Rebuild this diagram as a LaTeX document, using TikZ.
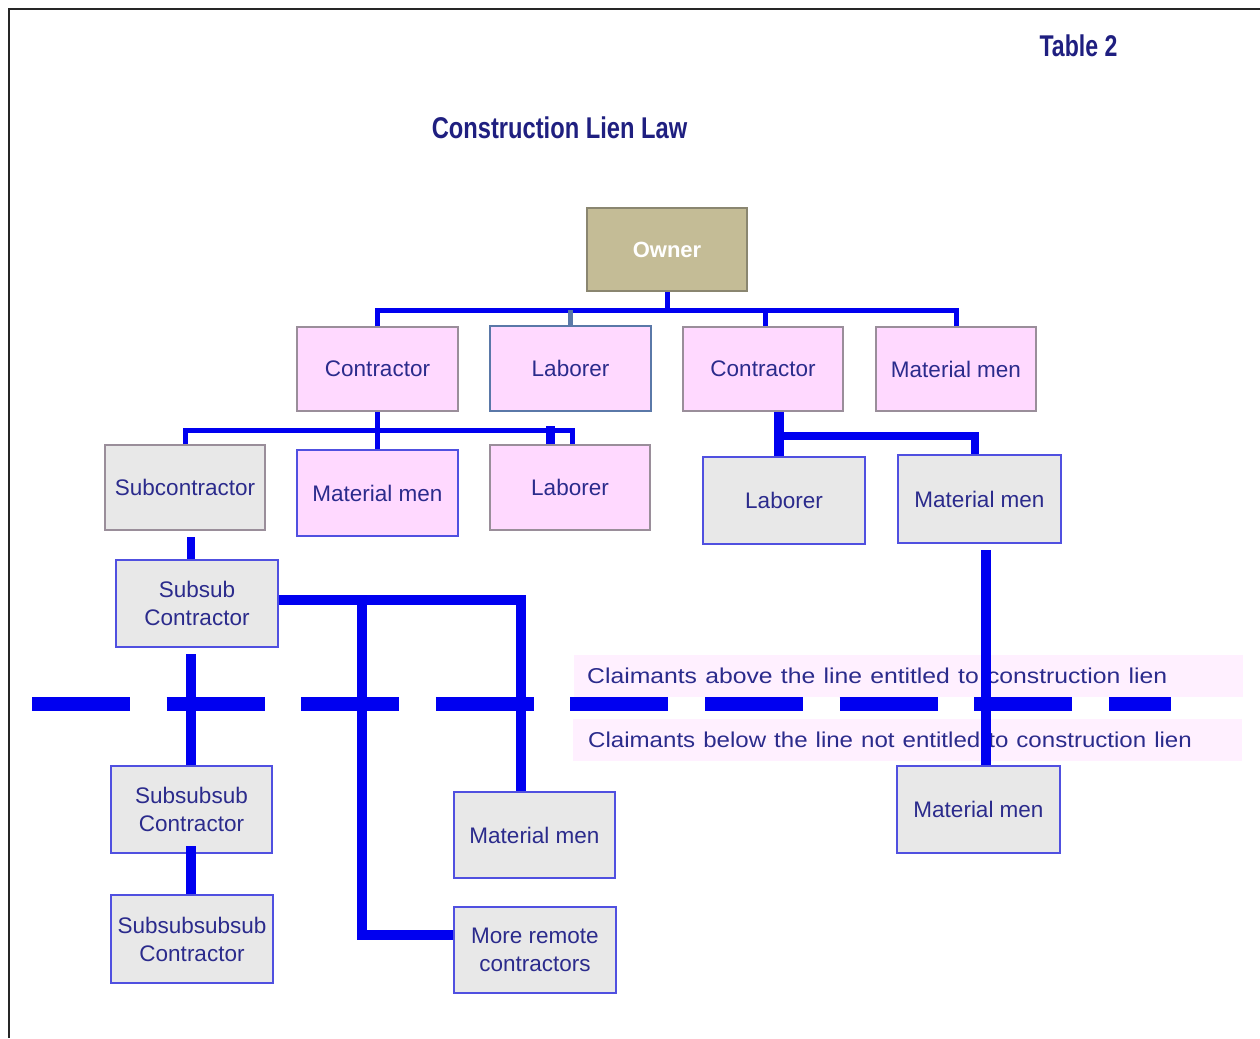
\documentclass[tikz,border=0pt]{standalone}
\usepackage{fontspec}
\usepackage{graphicx}
\setmainfont{Liberation Sans}
\definecolor{navy}{HTML}{2B2B8C}
\definecolor{titlenavy}{HTML}{1F1F80}
\definecolor{pinkfill}{HTML}{FFD9FF}
\definecolor{grayfill}{HTML}{E8E8E8}
\definecolor{tanfill}{HTML}{C4BC96}
\definecolor{tanborder}{HTML}{8A8670}
\definecolor{grayborder}{HTML}{9A8E9A}
\definecolor{blueborder}{HTML}{5050E0}
\definecolor{slateborder}{HTML}{5A78A8}
\definecolor{bandpink}{HTML}{FFF0FF}
\definecolor{linkblue}{HTML}{0000F0}
\begin{document}
\begin{tikzpicture}[x=1pt,y=-1pt,
  box/.style={draw, line width=2pt, inner sep=0pt, align=center, text=navy,
    font=\fontsize{22.5}{28}\selectfont},
  pinkbox/.style={box, fill=pinkfill, draw=grayborder},
  graybox/.style={box, fill=grayfill, draw=grayborder},
  bluegray/.style={box, fill=grayfill, draw=blueborder},
  bluepink/.style={box, fill=pinkfill, draw=blueborder},
  thinlink/.style={draw=linkblue, line width=5pt},
  thicklink/.style={draw=linkblue, line width=10pt},
  band/.style={fill=bandpink, minimum height=42pt, anchor=west, inner xsep=13pt,
    text width=643pt, align=left, text=navy, font=\fontsize{21.5}{26}\selectfont},
  titletext/.style={text=titlenavy, font=\fontsize{30}{36}\selectfont\bfseries}
]
\useasboundingbox (0,0) rectangle (1260,1038);
% frame
\draw[line width=2pt, black!85] (9,1038) -- (9,9) -- (1260,9);

% titles
\node[titletext] (title) at (559.5,128) {\scalebox{0.79}[1]{Construction Lien Law}};
\node[titletext] (table) at (1078.5,46) {\scalebox{0.77}[1]{Table 2}};

% boxes
\node[box, fill=tanfill, draw=tanborder, minimum width=160pt, minimum height=83pt,
  text=white, font=\fontsize{22}{26}\selectfont\bfseries] (owner) at (667,249.5) {Owner};

\node[pinkbox, minimum width=161pt, minimum height=84pt] (c1) at (377.5,369) {Contractor};
\node[pinkbox, draw=slateborder, minimum width=161pt, minimum height=85pt] (l1) at (570.5,368.5) {Laborer};
\node[pinkbox, minimum width=160pt, minimum height=84pt] (c2) at (763,369) {Contractor};
\node[pinkbox, minimum width=160pt, minimum height=84pt] (m1) at (956,369) {Material men};

\node[graybox, minimum width=160pt, minimum height=85pt] (sub) at (185,487.5) {Subcontractor};
\node[bluepink, minimum width=161pt, minimum height=86pt] (m2) at (377.5,493) {Material men};
\node[pinkbox, minimum width=160pt, minimum height=85pt] (l2) at (570,487.5) {Laborer};
\node[bluegray, minimum width=162pt, minimum height=87pt] (l3) at (784,500.5) {Laborer};
\node[bluegray, minimum width=163pt, minimum height=88pt] (m3) at (979.5,499) {Material men};

\node[bluegray, minimum width=162pt, minimum height=87pt] (ss) at (197,603.5) {Subsub\\Contractor};
\node[bluegray, minimum width=161pt, minimum height=87pt] (sss) at (191.5,809.5) {Subsubsub\\Contractor};
\node[bluegray, minimum width=162pt, minimum height=88pt] (ssss) at (192,939) {Subsubsubsub\\Contractor};
\node[bluegray, minimum width=161pt, minimum height=86pt] (m4) at (534.5,835) {Material men};
\node[bluegray, minimum width=162pt, minimum height=86pt] (mr) at (535,950) {More remote\\contractors};
\node[bluegray, minimum width=163pt, minimum height=87pt] (m5) at (978.5,809.5) {Material men};

% bands
\node[band] (above) at (574,676) {\scalebox{1.15}[1]{Claimants above the line entitled to construction lien}};
\node[band] (below) at (573,740) {\hspace*{2pt}\scalebox{1.12}[1]{Claimants below the line not entitled to construction lien}};

% owner bus
\coordinate (ob) at (0,310);
\draw[thinlink] (owner.south) -- (owner.south |- ob);
\draw[thinlink] (c1.north) -- (c1.north |- ob) -- (m1.north |- ob) -- (m1.north);
\draw[draw=slateborder, line width=5pt] (l1.north) -- (l1.north |- ob);
\draw[thinlink] ([xshift=2pt]c2.north) -- ([xshift=2pt]c2.north |- ob);

% contractor 1 bus
\coordinate (cb) at (0,430);
\draw[thinlink] (c1.south) -- (c1.south |- cb);
\draw[thinlink] (sub.north) -- (sub.north |- cb) -- ([xshift=2pt]l2.north |- cb) -- ([xshift=2pt]l2.north);
\draw[thinlink] (m2.north) -- (m2.north |- cb);
\draw[draw=linkblue, line width=9pt] ([xshift=-20pt]l2.north) -- ([xshift=-20pt,yshift=18pt]l2.north);

% contractor 2 bus
\coordinate (c2b) at (0,436);
\draw[thicklink] ([xshift=16pt]c2.south) -- ([xshift=-5pt]l3.north);
\draw[draw=linkblue, line width=8pt] ([xshift=16pt]c2.south |- c2b) -- ([xshift=-4.5pt]m3.north |- c2b) -- ([xshift=-4.5pt]m3.north);

% subcontractor to subsub
\draw[draw=linkblue, line width=8pt] ([xshift=6pt,yshift=-6pt]sub.south) -- ([xshift=-6pt]ss.north);

% subsub branches
\coordinate (sb) at (0,600);
\draw[thicklink] (ss.east |- sb) -- (521,600) -- (m4.north -| 521,0);
\draw[thicklink] (362,600) -- (362,935) -- (mr.west |- 0,935);
\draw[thicklink] ([xshift=-6pt,yshift=-6pt]ss.south) -- ([xshift=-0.5pt]sss.north);
\draw[thicklink] ([xshift=-0.5pt,yshift=8pt]sss.south) -- ([xshift=-1pt]ssss.north);

% material men to material men
\draw[thicklink] ([xshift=6.5pt,yshift=-6pt]m3.south) -- ([xshift=7.5pt]m5.north);

% dashed line
\coordinate (dl) at (32,704);
\coordinate (dr) at (1171,704);
\draw[draw=linkblue, line width=14pt, dash pattern=on 98pt off 36.6pt] (dl) -- (dr);
\end{tikzpicture}
\end{document}
